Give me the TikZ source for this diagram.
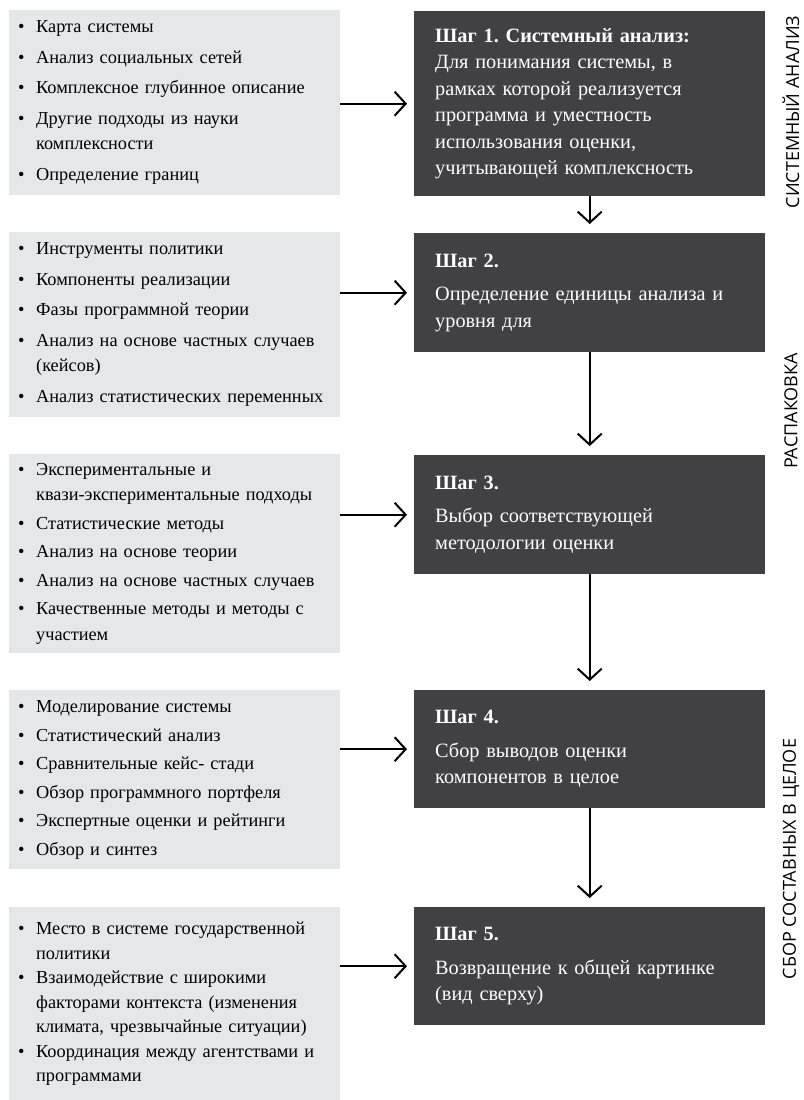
\documentclass[tikz,border=0pt]{standalone}
\usepackage{fontspec}
\setmainfont{Liberation Serif}
\newfontfamily\labelfont{Open Sans}
\usepackage{xcolor}
\usepackage{tikz}
\usetikzlibrary{arrows.meta}

\definecolor{stepgray}{HTML}{414042}
\definecolor{listgray}{HTML}{E6E7E8}
\newcommand\pnt[1]{\hangindent=18pt\hangafter=1\noindent\makebox[18pt][l]{\textbullet}#1\par}
\frenchspacing

\begin{document}
\begin{tikzpicture}
		[
			x=1pt,y=-1pt,
			lst/.style={
					fill=listgray,anchor=north west,inner xsep=0pt,inner ysep=0pt,
					text width=331pt,minimum width=331pt,align=left,
					font=\fontsize{18.3}{25.5}\selectfont,
					execute at begin node={\setlength{\parskip}{#1}\leftskip=9pt}},
			lst/.default=5pt,
			stepbox/.style={
					fill=stepgray,text=white,anchor=north west,inner xsep=0pt,inner ysep=0pt,
					text width=351pt,minimum width=351pt,align=left,
					font=\fontsize{20.3}{26.5}\selectfont,
					execute at begin node={\leftskip=21pt}},
			sect/.style={rotate=90,font=\labelfont\fontsize{18}{20}\selectfont},
			arr/.style={line width=2pt,-{Straight Barb[length=11pt,width=24pt]}}]
		\useasboundingbox (0,0) rectangle (803,1100);

		% left column
		\node[lst,minimum height=185pt] (lft1) at (9,10) {%
			\pnt{Карта системы}
			\pnt{Анализ социальных сетей}
			\pnt{Комплексное глубинное описание}
			\pnt{Другие подходы из науки\newline комплексности}
			\pnt{Определение границ}};
		\node[lst,minimum height=185pt] (lft2) at (9,232) {%
			\pnt{Инструменты политики}
			\pnt{Компоненты реализации}
			\pnt{Фазы программной теории}
			\pnt{Анализ на основе частных случаев\newline (кейсов)}
			\pnt{Анализ статистических переменных}};
		\node[lst=3pt,minimum height=199pt] (lft3) at (9,454) {%
			\pnt{Экспериментальные и\newline квази-экспериментальные подходы}
			\pnt{Статистические методы}
			\pnt{Анализ на основе теории}
			\pnt{Анализ на основе частных случаев}
			\pnt{Качественные методы и методы с\newline участием}};
		\node[lst=3pt,minimum height=179pt] (lft4) at (9,690) {%
			\pnt{Моделирование системы}
			\pnt{Статистический анализ}
			\pnt{Сравнительные кейс- стади}
			\pnt{Обзор программного портфеля}
			\pnt{Экспертные оценки и рейтинги}
			\pnt{Обзор и синтез}};
		\node[lst=0pt,minimum height=193pt,font=\fontsize{18.3}{24.5}\selectfont] (lft5) at (9,907) {%
			\pnt{Место в системе государственной\newline политики}
			\pnt{Взаимодействие с широкими\newline факторами контекста (изменения\newline климата, чрезвычайные ситуации)}
			\pnt{Координация между агентствами и\newline программами}};

		% steps
		\node[stepbox,minimum height=185pt] (stp1) at (414,11) {\textbf{Шаг 1. Системный анализ:}\\
			Для понимания системы, в\\ рамках которой реализуется\\ программа и уместность\\
			использования оценки,\\ учитывающей комплексность};
		\node[stepbox,minimum height=119pt] (stp2) at (414,233) {\textbf{Шаг 2.}\\[7pt]
			Определение единицы анализа и\\ уровня для};
		\node[stepbox,minimum height=119pt] (stp3) at (414,455) {\textbf{Шаг 3.}\\[7pt]
			Выбор соответствующей\\ методологии оценки};
		\node[stepbox,minimum height=118pt] (stp4) at (414,690) {\textbf{Шаг 4.}\\[7pt]
			Сбор выводов оценки\\ компонентов в целое};
		\node[stepbox,minimum height=118pt] (stp5) at (414,907) {\textbf{Шаг 5.}\\[7pt]
			Возвращение к общей картинке\\ (вид сверху)};

		\node[sect] (sys) at (791,112) {СИСТЕМНЫЙ АНАЛИЗ};
		\node[sect] (unp) at (791,411) {РАСПАКОВКА};
		\node[sect] (asm) at (791,859) {СБОР СОСТАВНЫХ В ЦЕЛОЕ};

		\foreach \i in {1,...,5}
		\draw[arr,shorten >=7pt] (stp\i.west -| lft\i.east) -- (stp\i.west);
		\foreach \a/\b in {stp1/stp2,stp2/stp3,stp3/stp4,stp4/stp5}
		\draw[arr,shorten >=9pt] (\a) -- (\b);
	\end{tikzpicture}
\end{document}
